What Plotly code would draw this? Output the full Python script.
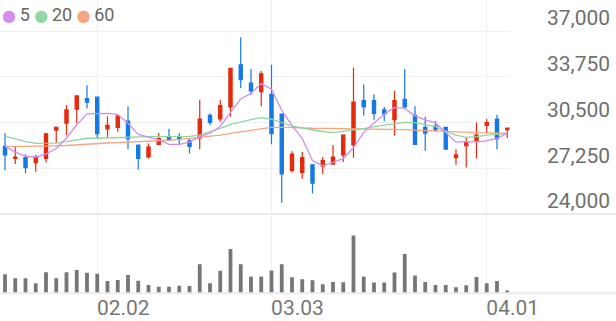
import plotly.graph_objects as go
from plotly.subplots import make_subplots

# ---- data ----
opens = [28800, 27950, 28000, 27650, 27950, 29950, 30450, 31450, 32200, 32300,
         30050, 30150, 30600, 28900, 28050, 28950, 29450, 29450, 29200, 29400,
         31000, 30750, 31600, 34600, 33300, 32700, 32500, 31100, 27100, 26950,
         27500, 27400, 27550, 28200, 28900, 32050, 32050, 31400, 30700, 32150,
         31000, 30150, 30250, 30150, 28000, 28850, 29200, 30300, 30750, 30000]
highs = [29750, 28800, 28250, 28200, 29750, 30200, 31750, 32400, 33150, 32300,
         30950, 31050, 31650, 28900, 29000, 29750, 30050, 29750, 29400, 32100,
         31150, 32100, 34350, 36550, 34300, 34150, 34600, 31100, 28450, 28400,
         27500, 28050, 28900, 29600, 34400, 33200, 32500, 31600, 32750, 34300,
         31650, 30900, 30600, 30200, 28600, 29400, 30500, 30750, 31050, 30150]
lows = [27100, 27550, 26900, 27000, 27650, 29050, 29600, 30450, 31500, 29350,
        29450, 29850, 28600, 27150, 27950, 28950, 29250, 28900, 28300, 28600,
        30300, 30550, 30900, 32950, 32450, 31650, 28950, 24800, 26950, 26500,
        25450, 26850, 27550, 27700, 28000, 31000, 30700, 30600, 29550, 31500,
        28950, 28500, 29850, 28600, 27500, 27300, 27950, 29750, 28600, 29400]
closes = [28200, 28050, 27300, 28050, 29700, 30150, 31400, 32400, 31950, 29700,
          30300, 30950, 29350, 27950, 28750, 29350, 29300, 29350, 28800, 30750,
          30500, 31700, 34350, 33550, 32750, 33950, 29700, 26850, 28250, 28000,
          26200, 27800, 28050, 29600, 31950, 31600, 31150, 31100, 32050, 31600,
          28950, 29750, 30000, 28600, 28200, 29150, 29600, 30500, 29350, 30100]
volumes = [190000, 150000, 150000, 100000, 210000, 150000, 210000, 233000, 206000, 196000,
           123000, 133000, 183000, 126000, 83000, 66000, 66000, 76000, 73000, 290000,
           100000, 226000, 443000, 290000, 167000, 167000, 227000, 290000, 160000, 140000,
           130000, 90000, 113000, 110000, 577000, 167000, 107000, 107000, 207000, 393000,
           177000, 113000, 83000, 83000, 60000, 80000, 163000, 100000, 123000, 27000]
ma5 = [28800, 28400, 28100, 28050, 28260, 28650, 29400, 30340, 31120, 31120,
       31150, 31060, 30450, 29650, 29460, 29270, 28940, 28940, 29110, 29510,
       29740, 30220, 31220, 32170, 32570, 33260, 32860, 31360, 30300, 29350,
       27800, 27420, 27660, 27930, 28720, 29800, 30470, 31080, 31570, 31500,
       30970, 30690, 30470, 29780, 29100, 29140, 29110, 29210, 29360, 29740]
ma20 = [29540, 29360, 29140, 29020, 29020, 29040, 29140, 29260, 29380, 29380,
        29400, 29450, 29490, 29490, 29490, 29490, 29490, 29490, 29520, 29610,
        29830, 30090, 30360, 30560, 30710, 30840, 30730, 30500, 30250, 30110,
        29970, 29860, 29780, 29860, 29970, 30070, 30200, 30320, 30440, 30510,
        30490, 30360, 30200, 29850, 29610, 29450, 29490, 29610, 29660, 29730]
ma60 = [28780, 28785, 28790, 28795, 28820, 28840, 28865, 28920, 28970, 29020,
        29045, 29070, 29095, 29120, 29145, 29170, 29240, 29300, 29370, 29450,
        29530, 29610, 29730, 29850, 29970, 30090, 30160, 30160, 30160, 30120,
        30090, 30080, 30075, 30075, 30075, 30070, 30050, 30030, 30015, 29990,
        29965, 29930, 29895, 29850, 29805, 29790, 29775, 29760, 29745, 29735]
x = list(range(len(closes)))
tick_pos = [9, 26, 47]
tick_labels = ["02.02", "03.03", "04.01"]
price_ticks = [24000, 27250, 30500, 33750, 37000]
ma_names = ["5", "20", "60"]

RED = "#e5290c"
BLUE = "#1479e6"
C5, C20, C60 = "#d08fee", "#90d6a0", "#f6a57f"

W, H = 616, 321
fig = make_subplots(rows=2, cols=1, shared_xaxes=True, vertical_spacing=0)

for vals, col in [(ma60, C60), (ma20, C20), (ma5, C5)]:
    fig.add_trace(go.Scatter(x=x, y=vals, mode="lines", line=dict(color=col, width=1.3),
                             hoverinfo="skip", showlegend=False), row=1, col=1)

fig.add_trace(go.Candlestick(
    x=x, open=opens, high=highs, low=lows, close=closes,
    increasing=dict(line=dict(color=RED, width=1.2), fillcolor=RED),
    decreasing=dict(line=dict(color=BLUE, width=1.2), fillcolor=BLUE),
    whiskerwidth=0, showlegend=False), row=1, col=1)

fig.add_trace(go.Bar(x=x, y=volumes, marker=dict(color="#767676", line=dict(width=0)),
                     showlegend=False), row=2, col=1)

px_right = 510 / W
fig.update_layout(
    width=W, height=H, margin=dict(l=0, r=0, t=0, b=0, autoexpand=False),
    paper_bgcolor="white", plot_bgcolor="white",
    font=dict(family="Roboto", color="#6f6f6f"),
    boxgap=0.55, bargap=0.63, showlegend=False,
)
xr = [-0.488, 49.27]
fig.update_xaxes(range=xr, domain=[0, px_right], tickvals=tick_pos, ticktext=tick_labels,
                 showgrid=True, gridcolor="#efefef", gridwidth=1, zeroline=False,
                 showline=False, ticks="", rangeslider_visible=False, automargin=False)
fig.update_xaxes(showticklabels=False, row=1, col=1)
fig.update_xaxes(showticklabels=True, tickfont=dict(size=21, color="#777777"),
                 ticklabelshift=26, row=2, col=1)

fig.update_yaxes(range=[24000, 37000 + 31 * 13000 / 183], domain=[1 - 214 / H, 1],
                 side="right", tickvals=price_ticks, tickformat=",",
                 tickfont=dict(size=21, color="#6f6f6f"),
                 showgrid=True, gridcolor="#f0f0f0", gridwidth=1, zeroline=False,
                 showline=False, ticks="", ticklabelshift=-13, ticklabelstandoff=36,
                 automargin=False, row=1, col=1)
fig.update_yaxes(range=[0, 793000], domain=[1 - 293.3 / H, 1 - 214 / H],
                 showgrid=False, zeroline=False, showticklabels=False, ticks="",
                 automargin=False, row=2, col=1)

for ypx in (214, 293.3):
    fig.add_shape(type="line", xref="paper", yref="paper", x0=0, x1=1,
                  y0=1 - ypx / H, y1=1 - ypx / H, line=dict(color="#ececec", width=2))

legend_txt = " ".join(
    f"<span style='color:{c};font-size:16px;font-family:DejaVu Sans'>●</span>\u2009{n}"
    for c, n in zip([C5, C20, C60], ma_names))
fig.add_annotation(text=legend_txt, xref="paper", yref="paper", x=0, y=1 - 14 / H,
                   xanchor="left", yanchor="middle", showarrow=False,
                   font=dict(size=18, color="#666666", family="Roboto"))

fig.write_html("out.html")
